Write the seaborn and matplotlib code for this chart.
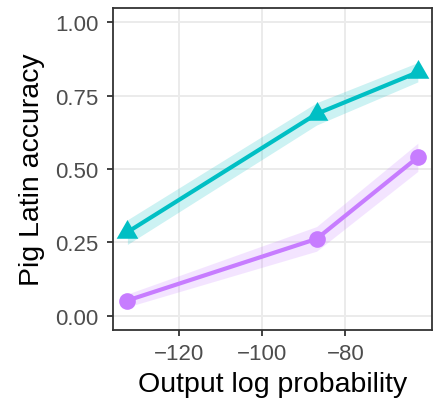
import matplotlib
matplotlib.use("Agg")
import matplotlib.pyplot as plt
from matplotlib.path import Path
import seaborn as sns
import pandas as pd
import numpy as np

# data
log_prob = [-132.3, -86.9, -62.6]
acc_teal = [0.285, 0.688, 0.830]
lo_teal = [0.243, 0.650, 0.797]
hi_teal = [0.327, 0.726, 0.863]
acc_purple = [0.052, 0.262, 0.540]
lo_purple = [0.030, 0.220, 0.492]
hi_purple = [0.074, 0.304, 0.588]
groups = ["teal", "purple"]
colors = {"teal": "#00BFC4", "purple": "#C77CFF"}
markers = {"teal": "^", "purple": "o"}

df = pd.DataFrame({
    "x": log_prob * 2,
    "y": acc_teal + acc_purple,
    "lo": lo_teal + lo_purple,
    "hi": hi_teal + hi_purple,
    "g": ["teal"] * 3 + ["purple"] * 3,
})

sns.set_theme(style="white")
plt.rcParams['font.family'] = ['Liberation Sans', 'DejaVu Sans']

fig = plt.figure(figsize=(4.39, 4.02), dpi=100)
ax = fig.add_axes([0.257, 0.177, 0.728, 0.800])

for g in groups:
    sub = df[df.g == g]
    ax.fill_between(sub.x, sub.lo, sub.hi, color=colors[g], alpha=0.2, linewidth=0, zorder=2)

sns.lineplot(data=df, x="x", y="y", hue="g", style="g", palette=colors,
             markers=markers, dashes=False, linewidth=3, markersize=12,
             markeredgewidth=0, legend=False, ax=ax, zorder=3)

tri = Path([(0, 0.577), (-0.5, -0.289), (0.5, -0.289), (0, 0.577)],
           [Path.MOVETO, Path.LINETO, Path.LINETO, Path.CLOSEPOLY])
for l in ax.lines:
    if l.get_marker() == "^":
        l.set_marker(tri)
        l.set_markersize(18)
        l.set_markeredgewidth(0)

ax.set_xlim(-135.8, -59.1)
ax.set_ylim(-0.048, 1.048)
ax.set_xticks([-120, -100, -80])
ax.set_xticklabels(["\u2212120", "\u2212100", "\u221280"])
ax.set_yticks([0, 0.25, 0.5, 0.75, 1.0])
ax.set_yticklabels(["0.00", "0.25", "0.50", "0.75", "1.00"])
ax.grid(True, color="#EBEBEB", linewidth=1.4, zorder=0)
ax.set_axisbelow(True)
for s in ax.spines.values():
    s.set_color("#333333")
    s.set_linewidth(1.3)
ax.tick_params(axis="both", colors="#333333", length=4, width=1.3, direction="out",
               labelsize=16, labelcolor="#4D4D4D")
ax.tick_params(axis="x", pad=5.5)
ax.tick_params(axis="y", pad=6.5)
ax.tick_params(left=True, bottom=True)
ax.set_xlabel("Output log probability", fontsize=20.5, color="black", labelpad=5)
ax.set_ylabel("Pig Latin accuracy", fontsize=20.5, color="black", labelpad=7)

fig.savefig("out.png", dpi=100)
